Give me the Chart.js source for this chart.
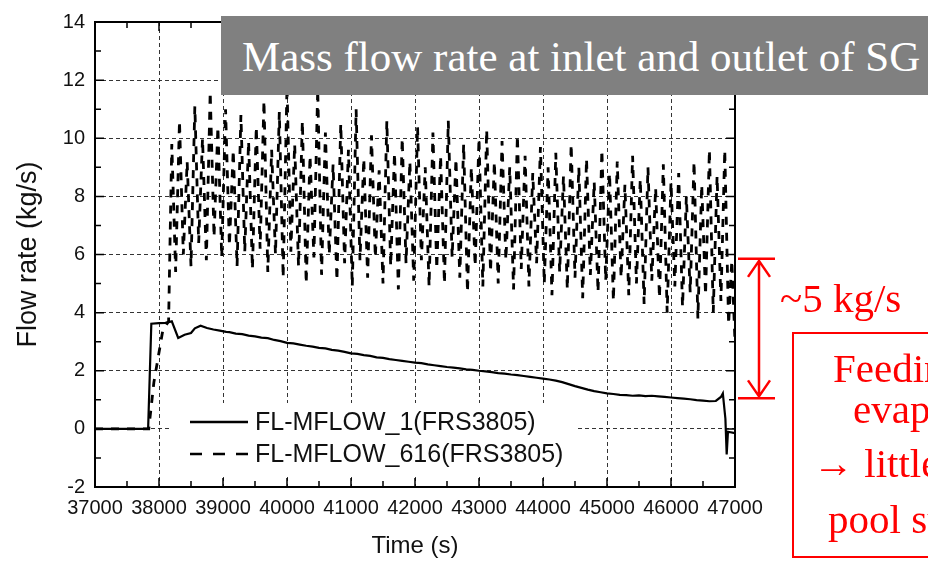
<!DOCTYPE html>
<html>
<head>
<meta charset="utf-8">
<script src="https://cdn.jsdelivr.net/npm/chart.js@4/dist/chart.umd.min.js"></script>
<style>
  html, body { margin: 0; padding: 0; width: 928px; height: 561px; overflow: hidden; background: #fff; }
  #wrap { position: relative; width: 928px; height: 561px; overflow: hidden; }
  canvas { position: absolute; left: 0; top: 0; }
  .title { position: absolute; left: 221px; top: 16px; width: 707px; height: 79px; background: #808080; color: #fff;
    font: 43px "Liberation Serif", "Times New Roman", serif; line-height: 79px; padding: 1px 0 0 21px;
    box-sizing: border-box; white-space: nowrap; }
  .red { position: absolute; color: #f00; font: 41px "Liberation Serif", "Times New Roman", serif; line-height: 41px; white-space: nowrap; }
  .note { position: absolute; left: 792px; top: 332px; width: 220px; height: 226px; border: 2px solid #f00; box-sizing: border-box; }
</style>
</head>
<body>
<div id="wrap">
  <canvas id="myChart" width="928" height="561"></canvas>
  <div class="title">Mass flow rate at inlet and outlet of SG</div>
  <div class="red" style="left:780px; top:278px;">~5 kg/s</div>
  <div class="note"></div>
  <div class="red" style="left:833px; top:348px;">Feeding water</div>
  <div class="red" style="left:853px; top:389px;">evaporates</div>
  <div class="red" style="left:813px; top:443px;">→ little effect</div>
  <div class="red" style="left:828px; top:499px;">pool subcooling</div>
</div>
<script>
const timeLabels = [37000, 38000, 39000, 40000, 41000, 42000, 43000, 44000, 45000, 46000, 47000]
const flowLabels = [-2, 0, 2, 4, 6, 8, 10, 12, 14]

// FL-MFLOW_1 (solid)
const inletTime = [37000, 37830, 37880, 38000, 38100, 38200, 38300, 38400, 38500, 38560, 38650, 38750, 38850, 38950, 39050,
    39100, 39200, 39300, 39400, 39500, 39600, 39700, 39800, 39900, 40000,
    40100, 40200, 40300, 40400, 40500, 40600, 40700, 40800, 40900, 41000,
    41100, 41200, 41300, 41400, 41500, 41600, 41700, 41800, 41900, 42000,
    42100, 42200, 42300, 42400, 42500, 42600, 42700, 42800, 42900, 43000,
    43100, 43200, 43300, 43400, 43500, 43600, 43700, 43800, 43900, 44000,
    44100, 44200, 44300, 44400, 44500, 44600, 44700, 44800, 44900, 45000,
    45100, 45200, 45300, 45400, 45500, 45600, 45700, 45800, 45900, 46000,
    46100, 46200, 46300, 46400, 46500, 46600, 46700, 46780, 46810, 46850, 46870, 46890, 47000]
const inletFlow = [0, 0, 3.62, 3.64, 3.65, 3.70, 3.13, 3.24, 3.30, 3.46, 3.55, 3.47, 3.42, 3.38, 3.34,
    3.33, 3.28, 3.26, 3.21, 3.18, 3.14, 3.12, 3.06, 3.02, 2.96,
    2.94, 2.90, 2.86, 2.83, 2.79, 2.77, 2.72, 2.69, 2.65, 2.60,
    2.58, 2.54, 2.51, 2.46, 2.44, 2.40, 2.37, 2.34, 2.31, 2.28,
    2.26, 2.22, 2.19, 2.16, 2.13, 2.11, 2.08, 2.05, 2.03, 2.00,
    1.98, 1.95, 1.92, 1.90, 1.87, 1.85, 1.82, 1.79, 1.76, 1.73,
    1.70, 1.66, 1.61, 1.54, 1.47, 1.41, 1.35, 1.30, 1.26, 1.22,
    1.20, 1.17, 1.16, 1.14, 1.15, 1.13, 1.14, 1.12, 1.10, 1.08,
    1.06, 1.04, 1.02, 0.99, 0.97, 0.95, 0.96, 1.10, 1.22, 0.35, -0.88, -0.10, -0.15]

// FL-MFLOW_616 (dashed): lead-in, then samples every 60 s from 38200
const outletLeadTime = [37000, 37840, 37920, 38060, 38150]
const outletLeadFlow = [0, 0, 1.6, 3.4, 3.7]
const outletStart = 38200
const outletStep = 60
const outletFlow = [9.8, 5.4, 10.6, 6.0, 9.2, 5.6, 11.1, 6.4, 10.0, 5.8, 11.6, 6.6, 10.4, 5.9, 11.0, 6.3,
    9.6, 5.6, 10.8, 6.1, 9.9, 5.5, 10.4, 6.2, 11.3, 5.4, 9.6, 6.0, 10.9, 5.2, 11.8, 6.1,
    9.8, 5.6, 10.6, 5.0, 9.4, 5.9, 11.7, 5.3, 10.2, 6.0, 9.1, 5.1, 10.5, 5.7, 9.6, 4.9,
    11.0, 5.8, 9.3, 5.2, 10.1, 5.9, 8.9, 5.0, 10.6, 5.6, 9.5, 4.8, 10.0, 5.7, 9.2, 5.1,
    10.4, 5.8, 9.0, 4.9, 10.2, 5.5, 9.4, 5.0, 10.6, 5.9, 9.3, 5.2, 9.8, 4.7, 9.0, 5.6,
    10.0, 4.9, 10.3, 5.4, 9.2, 5.0, 9.9, 5.8, 9.0, 4.8, 10.1, 5.5, 9.4, 4.9, 8.8, 5.7,
    9.7, 5.0, 9.0, 4.6, 9.5, 5.4, 8.7, 4.8, 9.8, 5.2, 9.0, 4.5, 9.3, 5.3, 8.5, 4.7,
    9.6, 5.1, 8.8, 4.4, 9.2, 5.2, 8.4, 4.6, 9.4, 5.0, 8.6, 4.3, 9.0, 5.1, 8.3, 4.5,
    9.1, 4.0, 8.5, 4.9, 8.8, 4.2, 8.0, 4.7, 9.2, 3.8, 8.4, 4.6, 9.6, 4.0, 8.7, 4.4,
    9.6, 3.6]
const outletTailTime = [46950, 47000]
const outletTailFlow = [5.8, 3.0]

// red "~5 kg/s" bracket, in flow units
const gapTop = 5.85
const gapBottom = 1.05

const inletData = inletTime.map((t, i) => ({x: t, y: inletFlow[i]}))
const outletData = outletLeadTime.map((t, i) => ({x: t, y: outletLeadFlow[i]}))
    .concat(outletFlow.map((v, i) => ({x: outletStart + i * outletStep, y: v})))
    .concat(outletTailTime.map((t, i) => ({x: t, y: outletTailFlow[i]})))

const legendBox = {
    id: 'legendBox',
    afterDatasetsDraw(chart) {
        const ctx = chart.ctx
        ctx.save()
        ctx.fillStyle = '#fff'
        ctx.fillRect(172, 403, 405, 72)
        ctx.font = '25px "Liberation Sans", Arial, sans-serif'
        ctx.textBaseline = 'middle'
        chart.data.datasets.forEach((ds, i) => {
            const yy = 422 + i * 32
            ctx.strokeStyle = '#000'
            ctx.lineWidth = 2.5
            ctx.setLineDash(ds.borderDash ? [12, 11] : [])
            ctx.beginPath()
            ctx.moveTo(190, yy)
            ctx.lineTo(248, yy)
            ctx.stroke()
            ctx.setLineDash([])
            ctx.fillStyle = '#111'
            ctx.fillText(ds.label, 255, yy + 1)
        })
        ctx.restore()
    }
}

const frame = {
    id: 'frame',
    afterDraw(chart) {
        const {ctx, chartArea: a, scales: {x, y}} = chart
        ctx.save()
        ctx.strokeStyle = '#000'
        ctx.lineWidth = 2
        ctx.strokeRect(a.left, a.top, a.right - a.left, a.bottom - a.top)
        ctx.lineWidth = 1.5
        ctx.beginPath()
        x.ticks.forEach(t => {
            const px = x.getPixelForValue(t.value)
            const len = timeLabels.includes(t.value) ? 9 : 6
            ctx.moveTo(px, a.bottom); ctx.lineTo(px, a.bottom - len)
            ctx.moveTo(px, a.top); ctx.lineTo(px, a.top + len)
        })
        y.ticks.forEach(t => {
            const py = y.getPixelForValue(t.value)
            const len = flowLabels.includes(t.value) ? 9 : 6
            ctx.moveTo(a.left, py); ctx.lineTo(a.left + len, py)
            ctx.moveTo(a.right, py); ctx.lineTo(a.right - len, py)
        })
        ctx.stroke()

        // red bracket with double arrow
        const yt = y.getPixelForValue(gapTop)
        const yb = y.getPixelForValue(gapBottom)
        const ax = 759
        ctx.strokeStyle = '#f00'
        ctx.lineWidth = 2.5
        ctx.beginPath()
        ctx.moveTo(a.right + 3, yt); ctx.lineTo(775, yt)
        ctx.moveTo(a.right + 3, yb); ctx.lineTo(775, yb)
        ctx.moveTo(ax, yt + 2); ctx.lineTo(ax, yb - 2)
        ctx.moveTo(ax - 11, yt + 18); ctx.lineTo(ax, yt + 2); ctx.lineTo(ax + 11, yt + 18)
        ctx.moveTo(ax - 11, yb - 18); ctx.lineTo(ax, yb - 2); ctx.lineTo(ax + 11, yb - 18)
        ctx.stroke()
        ctx.restore()
    }
}

const gridColor = (labels, ends) => (c) => {
    const v = c.tick ? c.tick.value : null
    if (v === null || ends.includes(v) || !labels.includes(v)) return 'rgba(0,0,0,0)'
    return 'rgba(30,30,30,0.9)'
}

const config = {
    type: 'line',
    data: {
        datasets: [{
            label: 'FL-MFLOW_1(FRS3805)',
            data: inletData,
            borderColor: '#000',
            borderWidth: 2.2,
            pointRadius: 0,
            tension: 0,
            fill: false,
        }, {
            label: 'FL-MFLOW_616(FRS3805)',
            data: outletData,
            borderColor: '#000',
            borderWidth: 2.8,
            borderDash: [8, 8],
            pointRadius: 0,
            tension: 0,
            fill: false,
        }]
    },
    options: {
        responsive: false,
        animation: false,
        layout: { padding: { left: 0, right: 193, top: 16, bottom: 0 } },
        plugins: {
            legend: { display: false },
            tooltip: { enabled: false },
        },
        scales: {
            x: {
                type: 'linear',
                min: 37000,
                max: 47000,
                afterFit: (s) => { s.height = 74 },
                grid: { color: gridColor(timeLabels, [37000, 47000]), lineWidth: 1, drawTicks: false },
                border: { display: false, dash: [4, 3] },
                ticks: {
                    stepSize: 500,
                    maxTicksLimit: 30,
                    autoSkip: false,
                    maxRotation: 0,
                    padding: 9,
                    color: '#111',
                    font: { family: '"Liberation Sans", Arial, sans-serif', size: 20 },
                    callback: (v) => timeLabels.includes(v) ? String(v) : '',
                },
                title: {
                    display: true,
                    text: 'Time (s)',
                    color: '#111',
                    padding: { top: 0, bottom: 0 },
                    font: { family: '"Liberation Sans", Arial, sans-serif', size: 24 },
                },
            },
            y: {
                min: -2,
                max: 14,
                afterFit: (s) => { s.width = 95 },
                grid: { color: gridColor(flowLabels, [-2, 14]), lineWidth: 1, drawTicks: false },
                border: { display: false, dash: [4, 3] },
                ticks: {
                    stepSize: 1,
                    maxTicksLimit: 20,
                    autoSkip: false,
                    padding: 10,
                    color: '#111',
                    font: { family: '"Liberation Sans", Arial, sans-serif', size: 20 },
                    callback: (v) => flowLabels.includes(v) ? String(v) : '',
                },
                title: {
                    display: true,
                    text: 'Flow rate (kg/s)',
                    color: '#111',
                    padding: { top: 12, bottom: 0 },
                    font: { family: '"Liberation Sans", Arial, sans-serif', size: 27 },
                },
            },
        },
    },
    plugins: [legendBox, frame],
}

const myChart = new Chart(document.getElementById('myChart'), config)
</script>
</body>
</html>
